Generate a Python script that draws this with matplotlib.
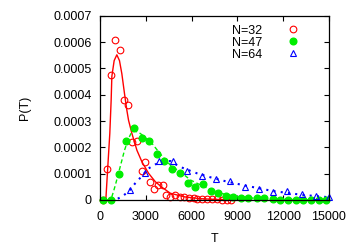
import numpy as np
import matplotlib
matplotlib.use('Agg')
import matplotlib.pyplot as plt

plt.rcParams['font.family'] = ['Liberation Sans', 'DejaVu Sans']
plt.rcParams['font.size'] = 9

# N=32 data points (open circles)
t32 = [200, 480, 700, 1000, 1290, 1560, 1860, 2120, 2410, 2720, 2910, 3240, 3510, 3790, 4120,
       4340, 4600, 4930, 5220, 5530, 5810, 6140, 6360, 6690, 7020, 7350, 7680, 8000, 8330, 8550]
p32 = [0.0, 0.000119, 0.000477, 0.000607, 0.000571, 0.000379, 0.000362, 0.000222, 0.000223,
       0.000110, 0.000143, 0.000068, 0.000041, 0.000058, 0.000056, 0.000018, 0.000013,
       0.000017, 0.000012, 0.000010, 0.000008, 0.000006, 0.000004, 0.000003, 0.000003,
       0.000002, 0.000002, 0.000001, 0.000001, 0.000001]
# N=32 fit curve
f32_t = [300, 375, 504, 636, 724, 770, 921, 1096, 1270, 1425, 1600, 1754, 1864, 2083, 2412,
         2741, 3180, 3618, 4057, 4605, 5500, 6500, 7500, 8500]
f32_p = [0.0, 0.0, 0.000126, 0.000253, 0.000379, 0.00047, 0.00053, 0.000552, 0.00053, 0.00048,
         0.000404, 0.000341, 0.000303, 0.000253, 0.000189, 0.000145, 0.000101, 0.0000693,
         0.000048, 0.0000253, 0.000012, 0.000005, 0.000002, 0.000001]

# N=47 data points (filled circles)
t47 = [170, 710, 1210, 1710, 2210, 2720, 3220, 3730, 4210, 4720, 5260, 5750, 6250, 6730,
       7240, 7740, 8220, 8730, 9210, 9720, 10260, 10770, 11300, 11820, 12320, 12810, 13310,
       13820, 14320, 14800]
p47 = [0.0, 0.0, 0.000100, 0.000226, 0.000273, 0.000235, 0.000223, 0.000173, 0.000147,
       0.000116, 0.000103, 0.0000655, 0.000048, 0.0000606, 0.0000352, 0.0000277, 0.0000163,
       0.0000102, 0.0000087, 0.0000087, 0.0000087, 0.0000065, 0.000004, 0.0, 0.0, 0.0, 0.0,
       0.0, 0.0, 0.0]
# N=47 fit curve
f47_t = [0, 700, 877, 1030, 1316, 1600, 1864, 2083, 2300, 2630, 2960, 3400, 3835, 4276, 4715,
         5263, 5921, 6798, 7895, 8990, 10000, 11500, 13000, 15000]
f47_p = [0.0, 0.0, 0.0000314, 0.000063, 0.000126, 0.000189, 0.000234, 0.000259, 0.000262,
         0.000253, 0.000237, 0.000215, 0.000183, 0.000152, 0.000126, 0.000107, 0.0000758,
         0.0000505, 0.0000253, 0.0000125, 0.000007, 0.000003, 0.000001, 0.0]

# N=64 data points (open triangles)
t64 = [1950, 2910, 3840, 4770, 5720, 6670, 7590, 8530, 9490, 10420, 11360, 12280, 13220,
       14150, 15000]
p64 = [0.0000380, 0.000101, 0.000148, 0.000149, 0.000111, 0.0000895, 0.0000795, 0.0000731,
       0.0000505, 0.0000417, 0.0000291, 0.0000341, 0.0000227, 0.0000152, 0.0000102]
# N=64 fit curve
f64_t = [700, 990, 1425, 1864, 2300, 2741, 3180, 3618, 4057, 4605, 4825, 5482, 6360, 7237,
         8333, 9649, 11300, 13270, 15000]
f64_p = [0.0, 0.0, 0.0000125, 0.0000315, 0.0000631, 0.0000909, 0.00012, 0.000135, 0.000145,
         0.000148, 0.000139, 0.00012, 0.000101, 0.000086, 0.0000693, 0.000053, 0.000034,
         0.000019, 0.0000102]

red = '#ff0000'
green = '#00ee00'
blue = '#0000ff'

fig = plt.figure(figsize=(3.5, 2.45), dpi=100)
ax = fig.add_axes([0.286, 0.184, 0.654, 0.751])

ax.plot(f32_t, f32_p, '-', color=red, lw=1.0)
ax.plot(f47_t, f47_p, '--', color=green, lw=1.0, dashes=(3, 2))
ax.plot(f64_t, f64_p, ':', color=blue, lw=1.5, dashes=(1, 2.5))

ax.plot(t32, p32, 'o', mfc='none', mec=red, ms=4.8, mew=0.8, label='N=32', clip_on=False)
ax.plot(t47, p47, 'o', color=green, ms=4.8, label='N=47', clip_on=False)
ax.plot(t64, p64, '^', mfc='none', mec=blue, ms=4.8, mew=0.8, label='N=64', clip_on=False)

ax.set_xlim(0, 15000)
ax.set_ylim(0, 0.0007)
ax.set_xticks(np.arange(0, 15001, 3000))
ax.set_yticks(np.arange(0, 0.00071, 0.0001))
ax.set_yticklabels(['0', '0.0001', '0.0002', '0.0003', '0.0004', '0.0005', '0.0006', '0.0007'])
ax.tick_params(direction='in', length=3.5, width=0.8, top=True, right=True)
ax.tick_params(axis='y', pad=6)
ax.tick_params(axis='x', pad=8)
for s in ax.spines.values():
    s.set_linewidth(0.9)

ax.set_xlabel('T', labelpad=7)
ax.set_ylabel('P(T)', labelpad=16)

leg = ax.legend(loc='upper right', bbox_to_anchor=(0.91, 1.0), frameon=False,
                markerfirst=False, handletextpad=2.0, labelspacing=0.0,
                borderpad=0.2, handlelength=1.0)
for t in leg.get_texts():
    t.set_ha('right')

fig.savefig('out.png', dpi=100)
